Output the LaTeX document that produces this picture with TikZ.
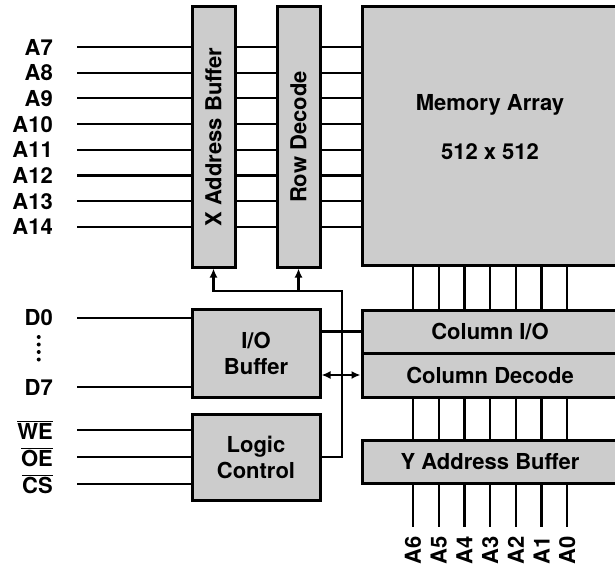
\documentclass[tikz,border=0pt]{standalone}
\usepackage{fontspec}
\setmainfont{TeX Gyre Heros}
\usetikzlibrary{arrows.meta}

\begin{document}
\begin{tikzpicture}[
  x=1pt, y=-1pt,
  >={Latex[length=9pt,width=8pt]},
  every node/.style={font=\fontsize{22}{26}\selectfont\bfseries, inner sep=0pt},
  blk/.style={draw, line width=3pt, fill=black!20},
  wire/.style={line width=2.2pt},
  lbl/.style={anchor=east},
]
  \useasboundingbox (0,0) rectangle (615,569);
  \clip (0,0) rectangle (615,569);

  % blocks
  \node[blk, minimum width=43pt, minimum height=260pt] (xbuf) at (213.5,137) {};
  \node[rotate=90] (xbuftxt) at (xbuf) {X Address Buffer};
  \node[blk, minimum width=43pt, minimum height=260pt] (rowdec) at (298.5,137) {};
  \node[rotate=90] (rowdectxt) at (rowdec) {Row Decode};
  \node[blk, minimum width=256pt, minimum height=258pt] (mem) at (490,136) {};
  \node (memtxt) at (490,105) {Memory Array};
  \node (memsize) at (490,152) {512 x 512};
  \node[blk, minimum width=256pt, minimum height=43pt] (colio) at (490,331.5) {Column I/O};
  \node[blk, minimum width=256pt, minimum height=44pt] (coldec) at (490,375) {Column Decode};
  \node[blk, minimum width=256pt, minimum height=43pt] (ybuf) at (490,461.5) {Y Address Buffer};
  \node[blk, minimum width=128pt, minimum height=88pt, align=center] (iobuf) at (256,353) {I/O\\Buffer};
  \node[blk, minimum width=128pt, minimum height=86pt, align=center] (logic) at (256,457) {Logic\\Control};

  % row address
  \foreach \n [count=\i from 0] in {7,...,14} {
    \node[lbl] (a\n) at (53,{47+25.7*\i}) {A\n};
    \draw[wire] ([xshift=24pt]a\n.east) -- (a\n -| xbuf.west)
                (a\n -| xbuf.east) -- (a\n -| rowdec.west)
                (a\n -| rowdec.east) -- (a\n -| mem.west);
  }

  % column address
  \foreach \n [count=\i from 0] in {6,...,0} {
    \node[rotate=90, anchor=east] (a\n) at ({413+25.7*\i},536) {A\n};
    \draw[wire] (a\n |- mem.south) -- (a\n |- colio.north)
                (a\n |- coldec.south) -- (a\n |- ybuf.north)
                (a\n |- ybuf.south) -- ([yshift=9pt]a\n.east);
  }

  % data
  \node[lbl] (d0) at (53,318) {D0};
  \node[lbl] (d7) at (53,387) {D7};
  \draw[wire] ([xshift=24pt]d0.east) -- (d0 -| iobuf.west);
  \draw[wire] ([xshift=24pt]d7.east) -- (d7 -| iobuf.west);
  \draw[line width=4pt, line cap=round, dash pattern=on 0pt off 7.5pt]
    ([yshift=-19pt]d0.center) -- ([yshift=20pt]d7.center);

  % control
  \foreach \s/\nm/\y in {WE/we/430, OE/oe/457, CS/cs/484} {
    \node[lbl] (\nm) at (53,\y) {$\overline{\mbox{\s}}$};
    \draw[wire] ([xshift=24pt]\nm.east) -- (\nm -| logic.west);
  }

  % internal bus
  \coordinate (bus) at (342,291);
  \draw[wire, ->] (logic.east) -| (bus) -| (xbuf.south);
  \draw[wire, ->] (rowdec.south |- bus) -- (rowdec.south);
  \draw[wire] (iobuf.east |- colio) -- (colio.west);
  \draw[wire, <->] (iobuf.east |- coldec) -- (coldec.west);
\end{tikzpicture}
\end{document}
